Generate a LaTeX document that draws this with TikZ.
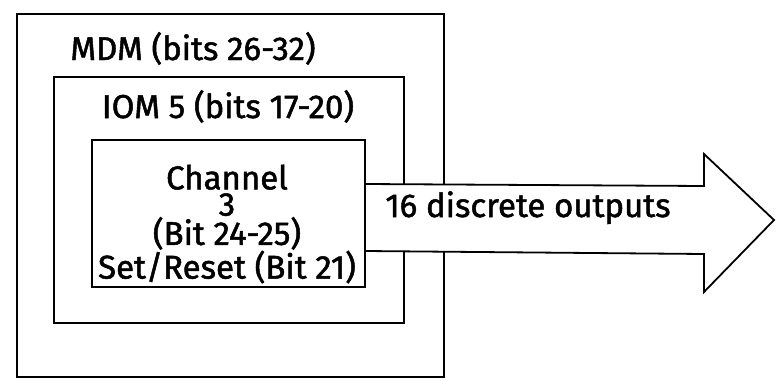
\documentclass[tikz,border=0pt]{standalone}
\usepackage{fontspec}
\setmainfont{Fira Sans}[FakeBold=1.5]
\begin{document}
\begin{tikzpicture}[x=1pt,y=-1pt,line width=1.8pt,
  every node/.style={font=\fontsize{33}{26.3}\selectfont,inner sep=0pt}]
\useasboundingbox (0,0) rectangle (776,380);
% nested modules
\draw (17,14) rectangle (444,377);
\node[anchor=base] (mdm) at (193,60) {MDM (bits 26-32)};
\draw (54,77) rectangle (404,323);
\node[anchor=base] (iom) at (228,118) {IOM 5 (bits 17-20)};
\draw (92,140) rectangle (365,287);
\node[align=center] (chan) at (227,224) {Channel\\3\\(Bit 24-25)\\Set/Reset (Bit 21)};
% output arrow
\draw[fill=white] (365,184) -- (704,186) -- (704,154) -- (774,220) -- (704,292) -- (704,254) -- (365,251) -- cycle;
\node[anchor=base] (out) at (528,217) {16 discrete outputs};
\end{tikzpicture}
\end{document}
